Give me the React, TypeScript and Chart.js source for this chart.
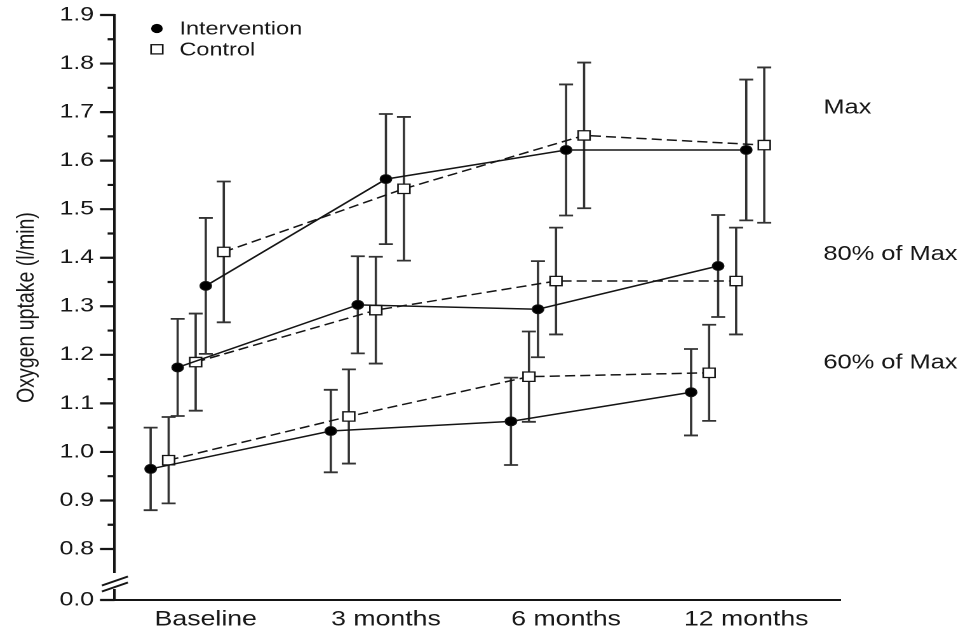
import React, { useEffect, useRef } from 'react';
import { Chart, registerables } from 'chart.js';

Chart.register(...registerables);

// ---------- data ----------
const categories = ['Baseline', '3 months', '6 months', '12 months'];
const groups = ['Intervention', 'Control'];
const levels = ['60% of Max', '80% of Max', 'Max'];

const int60 = [0.965, 1.043, 1.063, 1.123];
const int60Err = [0.085, 0.085, 0.09, 0.089];
const ctl60 = [0.983, 1.073, 1.155, 1.163];
const ctl60Err = [0.089, 0.097, 0.093, 0.099];

const int80 = [1.174, 1.303, 1.294, 1.383];
const int80Err = [0.1, 0.1, 0.099, 0.105];
const ctl80 = [1.185, 1.292, 1.352, 1.352];
const ctl80Err = [0.1, 0.11, 0.11, 0.11];

const intMax = [1.342, 1.562, 1.622, 1.622];
const intMaxErr = [0.14, 0.134, 0.135, 0.145];
const ctlMax = [1.412, 1.542, 1.652, 1.632];
const ctlMaxErr = [0.145, 0.148, 0.15, 0.16];

// dodge offsets (category units) per level and per group
const levelOffset = [-0.306, -0.156, 0];
const groupOffset = [0, 0.1];

// level annotation positions (data units)
const levelLabelX = 3.428;
const levelLabelY = [1.172, 1.395, 1.697];

// axis ticks (broken axis: bottom tick stands for 0.0)
const yMin = 0.695;
const yMax = 1.9;
const yTicks = [0.695, 0.8, 0.9, 1.0, 1.1, 1.2, 1.3, 1.4, 1.5, 1.6, 1.7, 1.8, 1.9];
const yTickLabels = ['0.0', '0.8', '0.9', '1.0', '1.1', '1.2', '1.3', '1.4', '1.5', '1.6', '1.7', '1.8', '1.9'];
const yMinorTicks = [0.85, 0.95, 1.05, 1.15, 1.25, 1.35, 1.45, 1.55, 1.65, 1.75, 1.85];
const xMin = -0.506;
const xMax = 3.522;

const yTitle = 'Oxygen uptake (l/min)';

// ---------- styling ----------
const FONT = "'Liberation Sans', Arial, Helvetica, sans-serif";
const INK = '#151515';
const TEXT = '#181818';
const BAR = '#333';
const LOGICAL_W = 758;
const LOGICAL_H = 640;
const CSS_W = 963;

const series = [
  { group: 0, level: 0, values: int60, errors: int60Err },
  { group: 1, level: 0, values: ctl60, errors: ctl60Err },
  { group: 0, level: 1, values: int80, errors: int80Err },
  { group: 1, level: 1, values: ctl80, errors: ctl80Err },
  { group: 0, level: 2, values: intMax, errors: intMaxErr },
  { group: 1, level: 2, values: ctlMax, errors: ctlMaxErr },
];

const decorPlugin = {
  id: 'decor',
  beforeDatasetsDraw(chart: any) {
    const ctx = chart.ctx;
    const ys = chart.scales.y;
    ctx.save();
    ctx.strokeStyle = BAR;
    ctx.lineWidth = 1.8;
    chart.data.datasets.forEach((ds: any, di: number) => {
      const meta = chart.getDatasetMeta(di);
      meta.data.forEach((pt: any, i: number) => {
        const v = ds.data[i].y;
        const e = ds.errors[i];
        const top = ys.getPixelForValue(v + e);
        const bot = ys.getPixelForValue(v - e);
        const x = pt.x;
        const cap = 5.5;
        ctx.beginPath();
        ctx.moveTo(x, top);
        ctx.lineTo(x, bot);
        ctx.moveTo(x - cap, top);
        ctx.lineTo(x + cap, top);
        ctx.moveTo(x - cap, bot);
        ctx.lineTo(x + cap, bot);
        ctx.stroke();
      });
    });
    ctx.restore();
  },
  afterDraw(chart: any) {
    const ctx = chart.ctx;
    const ys = chart.scales.y;
    const xs = chart.scales.x;
    const area = chart.chartArea;
    const x0 = area.left;
    ctx.save();

    // y tick marks
    ctx.strokeStyle = INK;
    ctx.lineWidth = 2.2;
    ctx.beginPath();
    yTicks.forEach((v) => {
      const py = ys.getPixelForValue(v);
      ctx.moveTo(x0 - 11.5, py);
      ctx.lineTo(x0, py);
    });
    yMinorTicks.forEach((v) => {
      const py = ys.getPixelForValue(v);
      ctx.moveTo(x0 - 5.5, py);
      ctx.lineTo(x0, py);
    });
    ctx.stroke();

    // axis break
    const b = area.bottom;
    ctx.fillStyle = '#fff';
    ctx.fillRect(x0 - 3, b - 27, 6, 16);
    ctx.lineWidth = 1.8;
    ctx.beginPath();
    [-19, -13].forEach((off) => {
      const c = b + off;
      ctx.moveTo(x0 - 10, c + 4.5);
      ctx.lineTo(x0 + 10.5, c - 4.5);
    });
    ctx.stroke();

    // legend
    const lx = x0 + 33.3;
    const ly1 = area.top + 13.5;
    const ly2 = area.top + 34.3;
    ctx.fillStyle = '#000';
    ctx.beginPath();
    ctx.arc(lx, ly1, 4.6, 0, Math.PI * 2);
    ctx.fill();
    ctx.fillStyle = '#fff';
    ctx.fillRect(lx - 4.6, ly2 - 4.6, 9.2, 9.2);
    ctx.strokeStyle = INK;
    ctx.lineWidth = 1.3;
    ctx.strokeRect(lx - 4.6, ly2 - 4.6, 9.2, 9.2);
    ctx.fillStyle = TEXT;
    ctx.font = `18.5px ${FONT}`;
    ctx.textAlign = 'left';
    ctx.textBaseline = 'alphabetic';
    ctx.fillText(groups[0], x0 + 51, area.top + 19.3);
    ctx.fillText(groups[1], x0 + 51, area.top + 40.3);

    // level annotations
    ctx.font = `20px ${FONT}`;
    levels.forEach((name, k) => {
      ctx.fillText(name, xs.getPixelForValue(levelLabelX), ys.getPixelForValue(levelLabelY[k]));
    });
    ctx.restore();
  },
};

export default function App() {
  const ref = useRef<HTMLCanvasElement | null>(null);

  useEffect(() => {
    if (!ref.current) return;
    const datasets = series.map((s) => ({
      label: `${groups[s.group]} – ${levels[s.level]}`,
      data: s.values.map((v, i) => ({ x: i + levelOffset[s.level] + groupOffset[s.group], y: v })),
      errors: s.errors,
      borderColor: INK,
      borderWidth: 1.5,
      borderDash: s.group ? [8, 4] : [],
      tension: 0,
      fill: false,
      pointStyle: s.group ? 'rect' : 'circle',
      pointRadius: s.group ? 6.6 : 4.5,
      pointBackgroundColor: s.group ? '#fff' : '#000',
      pointBorderColor: INK,
      pointBorderWidth: s.group ? 1.3 : 1,
    }));

    const chart = new Chart(ref.current, {
      type: 'line',
      data: { datasets } as any,
      options: {
        animation: false,
        responsive: false,
        devicePixelRatio: 2,
        layout: { padding: { left: 0, top: 15, right: 96.6, bottom: 0 } },
        plugins: { legend: { display: false }, tooltip: { enabled: false } },
        scales: {
          x: {
            type: 'linear',
            min: xMin,
            max: xMax,
            grid: { display: false, drawTicks: false },
            border: { display: true, color: INK, width: 2 },
            afterBuildTicks: (s: any) => {
              s.ticks = categories.map((_, i) => ({ value: i }));
            },
            afterFit: (s: any) => {
              s.height = 40;
            },
            ticks: {
              autoSkip: false,
              maxRotation: 0,
              padding: 7,
              color: TEXT,
              font: { family: FONT, size: 21 },
              callback: (v: any) => categories[v as number],
            },
          },
          y: {
            type: 'linear',
            min: yMin,
            max: yMax,
            grid: { display: false, drawTicks: true, tickLength: 16.2 },
            border: { display: true, color: INK, width: 2.1 },
            afterBuildTicks: (s: any) => {
              s.ticks = yTicks.map((v) => ({ value: v }));
            },
            afterFit: (s: any) => {
              s.width = 90.2;
            },
            ticks: {
              padding: 0,
              color: TEXT,
              font: { family: FONT, size: 19.5 },
              callback: (_v: any, i: number) => yTickLabels[i],
            },
            title: {
              display: true,
              text: yTitle,
              color: TEXT,
              font: { family: FONT, size: 19.5 },
              padding: { top: 9.5, bottom: 0 },
            },
          },
        },
      } as any,
      plugins: [decorPlugin],
    });
    return () => chart.destroy();
  }, []);

  return (
    <div style={{ position: 'absolute', left: 0, top: 0, width: CSS_W, height: LOGICAL_H, background: '#fff' }}>
      <canvas
        ref={ref}
        width={LOGICAL_W}
        height={LOGICAL_H}
        style={{ width: `${CSS_W}px`, height: `${LOGICAL_H}px`, display: 'block' }}
      />
    </div>
  );
}
